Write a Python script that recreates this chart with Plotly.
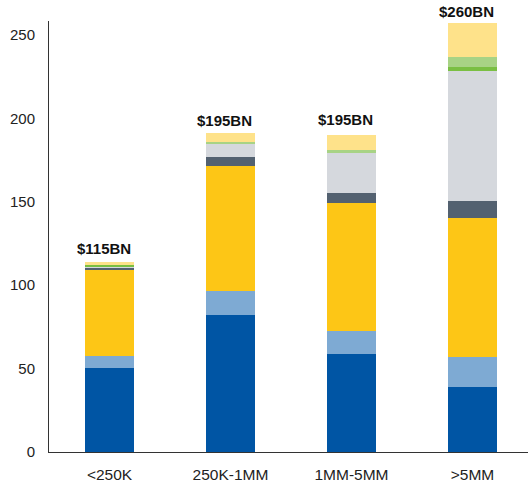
import plotly.graph_objects as go

categories = ["<250K", "250K-1MM", "1MM-5MM", ">5MM"]
totals_labels = ["$115BN", "$195BN", "$195BN", "$260BN"]

seg_dark_blue = [50.4, 82.1, 58.8, 39.2]
seg_light_blue = [7.1, 14.4, 13.9, 17.9]
seg_yellow = [51.8, 75.0, 76.8, 83.4]
seg_dark_gray = [1.2, 5.4, 5.8, 10.0]
seg_light_gray = [1.0, 7.8, 24.0, 78.1]
seg_dark_green = [0.6, 0.0, 0.0, 2.4]
seg_light_green = [0.0, 1.2, 1.8, 6.0]
seg_light_yellow = [1.8, 5.4, 9.2, 20.4]

series = [
    ("Dark blue", seg_dark_blue, "#0055a4"),
    ("Light blue", seg_light_blue, "#7eaad3"),
    ("Yellow", seg_yellow, "#fdc616"),
    ("Dark gray", seg_dark_gray, "#536170"),
    ("Light gray", seg_light_gray, "#d5d8dd"),
    ("Green", seg_dark_green, "#7abf43"),
    ("Light green", seg_light_green, "#a8d385"),
    ("Light yellow", seg_light_yellow, "#fee28a"),
]

fig = go.Figure()
for name, vals, color in series:
    fig.add_trace(go.Bar(
        x=categories, y=vals, name=name, width=0.4,
        marker=dict(color=color, line=dict(width=0)),
        hoverinfo="skip",
    ))

totals = [sum(s[1][i] for s in series) for i in range(len(categories))]
label_shift = [3, 2, 5, 1]
for i, cat in enumerate(categories):
    fig.add_annotation(
        x=cat, y=totals[i], text="<b>" + totals_labels[i] + "</b>",
        showarrow=False, yanchor="bottom", xshift=-6, yshift=label_shift[i],
        font=dict(family="Liberation Sans, Arial, sans-serif", size=15, color="#111111"),
    )

fig.update_layout(
    barmode="stack",
    width=528, height=487,
    margin=dict(l=49, r=0, t=21, b=35, autoexpand=False),
    paper_bgcolor="white", plot_bgcolor="white",
    showlegend=False,
    font=dict(family="Liberation Sans, Arial, sans-serif", size=15, color="#222222"),
    xaxis=dict(
        range=[-0.5, 3.459], showline=True, linecolor="#333333", linewidth=1,
        showgrid=False, ticks="", ticklabelstandoff=8, zeroline=False,
        automargin=False, tickfont=dict(size=15.5),
    ),
    yaxis=dict(
        range=[0, 258.4], tickvals=[0, 50, 100, 150, 200, 250],
        showline=True, linecolor="#333333", linewidth=1, showgrid=False,
        ticks="", ticklabelstandoff=10, zeroline=False, automargin=False,
    ),
)

fig.write_html(
    "out.html",
    config={"displayModeBar": False},
    post_script="document.body.style.margin='0';document.body.style.overflow='hidden';",
)
